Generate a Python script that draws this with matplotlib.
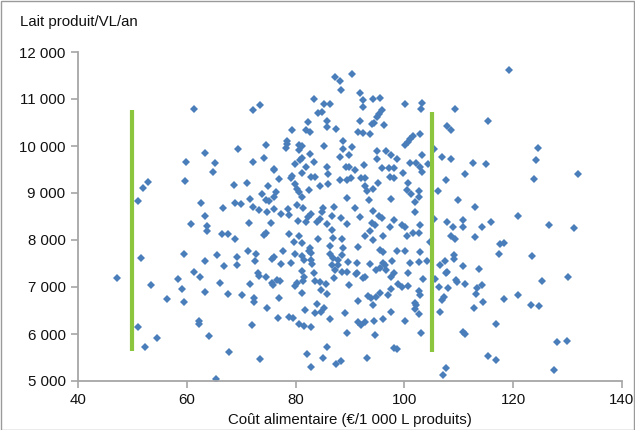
import matplotlib
matplotlib.use("Agg")
import matplotlib.pyplot as plt
from matplotlib.patches import Rectangle
from matplotlib.ticker import FuncFormatter

plt.rcParams["font.family"] = ["Liberation Sans", "DejaVu Sans"]

# Coût alimentaire (€/1 000 L) et lait produit par VL
cout_alimentaire = [
    61.4, 63.3, 59.8,
    87.2, 88.2, 88.3, 83.4, 85.3, 86.3, 73.5, 72.2, 84.8, 84.2, 82.2, 85.8, 85.8, 87.4, 79.3, 81.9, 82.6, 88.7,
    78.5, 78.5, 74.5, 80.7, 81.1, 85.3, 78.2, 80.6, 69.4, 88.7, 82.6, 74.1, 81.2, 80.8, 88.2, 72.1, 65.2, 79.8,
    83.3, 76.0, 82.0, 85.7,
    90.4, 91.8, 92.3, 94.2, 95.6, 92.4, 100.2, 103.2, 103.1, 109.3, 95.9, 95.4, 95.0, 94.5, 94.0, 96.3, 91.8,
    107.8, 108.6, 91.5, 92.3, 93.7, 102.9, 101.6, 101.0, 100.6, 100.1, 105.4, 90.3, 95.0, 96.6, 97.5, 89.8,
    95.0, 98.6, 103.2, 106.9, 108.6, 112.6, 92.6, 101.0, 102.2, 89.3, 89.8, 95.8, 97.2, 98.0, 102.9, 104.4,
    119.2, 115.4, 124.6, 124.1, 115.0,
    59.7, 52.9, 51.9, 51.0, 62.7, 63.3, 60.8, 63.8, 63.8, 51.6, 59.4, 63.4, 61.4,
    64.9, 76.0, 79.3, 79.2, 76.9, 81.1, 82.9, 83.6, 86.0, 88.2, 68.6, 71.0, 74.9, 79.9, 80.3, 80.7, 84.4, 85.9,
    82.5, 76.4, 73.8, 76.0, 81.1, 74.6, 75.2, 71.7, 68.8, 69.9, 72.2, 66.7, 73.2, 76.1, 74.7, 78.6, 80.2, 81.3,
    85.1, 87.0, 84.8, 82.8, 82.3, 77.4, 78.8, 80.5, 81.9, 84.5, 84.0, 86.6, 88.4, 71.5, 75.5, 85.8, 86.6, 66.5,
    67.6, 68.9, 74.2, 74.5, 78.8, 80.6, 84.1, 86.8, 79.7, 81.1, 88.5, 86.3, 82.7, 82.4, 82.8, 77.6, 71.2, 72.7,
    76.0, 65.5, 69.2, 79.9, 81.2, 86.3, 86.9, 87.8, 88.5, 72.5, 75.6, 79.2, 77.4, 81.5, 82.8, 83.1, 86.7, 87.8,
    69.3, 66.9, 73.1, 81.2, 83.3, 87.2,
    91.0, 99.8, 103.2, 89.4, 90.1, 92.1, 92.8, 97.4, 98.0, 100.7, 107.6, 111.2, 92.8, 93.1, 94.3, 95.2, 100.4,
    102.7, 101.3, 106.1, 89.4, 93.5, 97.5, 102.7, 102.0, 109.9, 113.0, 90.9, 94.2, 102.0, 91.8, 95.3, 95.8,
    98.1, 105.4, 107.8, 110.7, 89.5, 94.0, 94.6, 97.4, 99.5, 100.1, 102.9, 108.9, 110.7, 93.7, 100.4, 101.5,
    102.7, 92.8, 94.3, 96.1, 108.6, 109.3, 113.0, 88.7, 91.5, 95.5, 96.0, 98.7, 100.2, 102.9, 104.7, 109.2,
    109.2, 107.5, 89.7, 91.3, 93.7, 96.0, 97.7, 101.0, 102.6, 104.2, 106.5, 110.7, 95.5, 96.4, 96.7, 94.8,
    89.4, 91.2, 98.0, 107.8,
    123.9, 132.0, 120.9, 116.0, 114.3, 126.5, 131.2, 117.5, 118.3, 117.4, 123.5, 113.7,
    47.1, 53.5, 56.3, 58.4, 59.2, 59.5, 62.4, 63.3, 62.3, 62.3, 64.1, 51.0, 54.5, 52.3,
    66.1, 67.6, 70.2, 71.7, 73.2, 74.6, 75.7, 75.8, 76.6, 77.2, 72.4, 72.4, 76.9, 74.7, 76.8, 72.0, 67.8,
    73.4, 65.4, 78.8, 79.5, 79.8, 80.2, 81.5, 81.3, 81.2, 83.6, 84.4, 84.7, 85.8, 85.6, 87.1, 88.5, 81.8,
    84.0, 83.5, 84.7, 85.3, 86.3, 80.6, 81.6, 82.9, 85.7, 82.1, 85.1, 82.9, 87.4, 88.3, 89.0,
    91.1, 92.4, 92.8, 97.6, 100.6, 103.5, 105.6, 107.6, 109.6, 109.4, 111.1, 89.8, 97.5, 98.9, 99.5, 100.7,
    102.6, 102.9, 106.4, 108.0, 95.5, 97.0, 93.4, 94.8, 93.8, 107.3, 107.0, 91.5, 94.2, 102.0, 102.1, 102.0,
    97.5, 102.7, 106.5, 112.8, 96.1, 94.4, 92.8, 91.5, 92.0, 100.2, 89.5, 94.6, 103.0, 110.7, 111.1, 98.0,
    98.7, 93.2, 107.6, 107.1,
    113.3, 114.2, 113.2, 114.4, 125.3, 130.0, 118.3, 120.8, 123.2, 124.8, 116.8, 128.0, 129.8, 115.4, 116.9,
    127.5,
]

lait_produit = [
    10790, 9860, 9650,
    11460, 11380, 11190, 10990, 10890, 10890, 10870, 10770, 10720, 10700, 10510, 10530, 10400, 10370, 10350,
    10330, 10290, 10110, 10110, 10040, 10030, 10030, 10010, 10010, 9950, 9920, 9940, 9940, 9840, 9750, 9745,
    9700, 9770, 9660, 9630, 9620, 9650, 9520, 9560, 9545,
    11530, 11130, 10980, 11010, 11030, 10840, 10900, 10920, 10790, 10795, 10775, 10675, 10625, 10500, 10470,
    10450, 10540, 10430, 10340, 10290, 10285, 10265, 10265, 10215, 10155, 10095, 10015, 9945, 9975, 9900,
    9895, 9810, 9810, 9715, 9715, 9800, 9765, 9715, 9645, 9600, 9645, 9645, 9560, 9545, 9525, 9525, 9525,
    9560, 9620,
    11620, 10535, 9965, 9695, 9625,
    9260, 9225, 9115, 8825, 8780, 8520, 8350, 8300, 8185, 7615, 7705, 7555, 7315,
    9455, 9495, 9360, 9315, 9300, 9425, 9335, 9350, 9400, 9285, 9175, 9205, 9140, 9190, 9085, 9015, 9140,
    9190, 9065, 9015, 8975, 8915, 8910, 8860, 8830, 8875, 8780, 8765, 8710, 8675, 8645, 8665, 8605, 8665,
    8745, 8690, 8675, 8705, 8605, 8555, 8495, 8545, 8530, 8405, 8390, 8455, 8390, 8520, 8475, 8355, 8355,
    8350, 8215, 8130, 8130, 8030, 8105, 8150, 8120, 8090, 8020, 8035, 7960, 7935, 8020, 7875, 7825, 7765,
    7725, 7775, 7760, 7705, 7645, 7675, 7630, 7695, 7665, 7695, 7625, 7570, 7680, 7555, 7590, 7520, 7495,
    7570, 7575, 7490, 7470, 7470, 7470, 7455, 7290, 7340, 7290, 7360,
    9490, 9420, 9440, 9275, 9315, 9315, 9315, 9350, 9315, 9205, 9275, 9405, 9145, 9035, 9085, 9205, 9065,
    9050, 8975, 9050, 8885, 8845, 8875, 8910, 8800, 8850, 8695, 8675, 8625, 8590, 8495, 8520, 8475, 8425,
    8445, 8375, 8425, 8335, 8370, 8320, 8285, 8320, 8285, 8320, 8285, 8270, 8185, 8080, 8150, 8150, 8080,
    8000, 8080, 8080, 8020, 8060, 7825, 7860, 7790, 7740, 7765, 7765, 7740, 7950, 7680, 7595, 7560, 7540,
    7505, 7490, 7505, 7555, 7520, 7540, 7555, 7470, 7455, 7400, 7470, 7360, 7360, 7325, 7290, 7290, 7315,
    9305, 9410, 8510, 8390, 8270, 8325, 8255, 7915, 7935, 7695, 7660, 7390,
    7200, 7035, 6740, 7165, 6950, 6675, 7205, 6900, 6275, 6205, 5965, 6150, 5915, 5730,
    7085, 6845, 6830, 7070, 7235, 7205, 7075, 7035, 7150, 7130, 6760, 6680, 6760, 6545, 6335, 6190, 5610,
    5470, 5050, 6360, 6335, 7020, 7080, 7220, 7130, 6880, 7130, 7100, 6935, 6850, 7065, 7185, 7325, 6510,
    6640, 6455, 6475, 6545, 6315, 6215, 6170, 6155, 5715, 5570, 5485, 5305, 5355, 5425, 6440,
    7275, 7185, 7220, 7220, 7305, 7165, 7165, 7305, 7115, 7150, 7060, 7045, 6950, 7065, 7005, 7020, 6920,
    6830, 7005, 6970, 6880, 6830, 6810, 6795, 6760, 6795, 6725, 6700, 6615, 6665, 6615, 6525, 6475, 6425,
    6475, 6545, 6325, 6285, 6260, 6260, 6190, 6275, 6015, 5980, 6015, 6045, 6000, 5710, 5675, 5495, 5285,
    5130,
    6985, 7035, 6850, 6680, 7130, 7215, 6750, 6835, 6625, 6605, 6220, 5830, 5845, 5540, 5440, 5230,
]

# bornes des deux traits verts (x, y bas, y haut)
seuils_x = [50, 105]
seuils_bas = [5640, 5625]
seuils_haut = [10770, 10730]

x_ticks = [40, 60, 80, 100, 120, 140]
y_ticks = [5000, 6000, 7000, 8000, 9000, 10000, 11000, 12000]

n = min(len(cout_alimentaire), len(lait_produit))

fig = plt.figure(figsize=(6.35, 4.3), dpi=100)
fig.patch.set_facecolor("white")
ax = fig.add_axes([78 / 635, 1 - 381 / 430, 544 / 635, 329 / 430])

ax.plot(cout_alimentaire[:n], lait_produit[:n], linestyle="none", marker="D",
        markersize=4.0, color="#4a7ebb", markeredgewidth=0)

for sx, sb, sh in zip(seuils_x, seuils_bas, seuils_haut):
    ax.plot([sx, sx], [sb, sh], color="#8cc63f", linewidth=3, solid_capstyle="butt")

ax.set_xlim(40, 140)
ax.set_ylim(5000, 12000)
ax.set_xticks(x_ticks)
ax.set_yticks(y_ticks)
ax.yaxis.set_major_formatter(FuncFormatter(lambda v, p: f"{v:,.0f}".replace(",", " ")))

for side in ["top", "right"]:
    ax.spines[side].set_visible(False)
for side in ["left", "bottom"]:
    ax.spines[side].set_color("#a6a6a6")
    ax.spines[side].set_linewidth(1.3)

ax.tick_params(direction="out", length=5, width=1.2, color="#a6a6a6",
               labelsize=10.8, labelcolor="#111111", pad=4)

fig.text(20 / 635, 1 - 22 / 430, "Lait produit/VL/an", fontsize=10.8,
         color="#111111", ha="left", va="center")
fig.text(350 / 635, 1 - 420 / 430, "Coût alimentaire (€/1 000 L produits)",
         fontsize=10.8, color="#111111", ha="center", va="center")

# cadre gris autour de l'image
fig.patches.append(Rectangle((0.001, 0.001), 0.997, 0.997, transform=fig.transFigure,
                             fill=False, edgecolor="#9a9a9a", linewidth=1))

plt.savefig("out.png", dpi=100, facecolor="white")
plt.close()
